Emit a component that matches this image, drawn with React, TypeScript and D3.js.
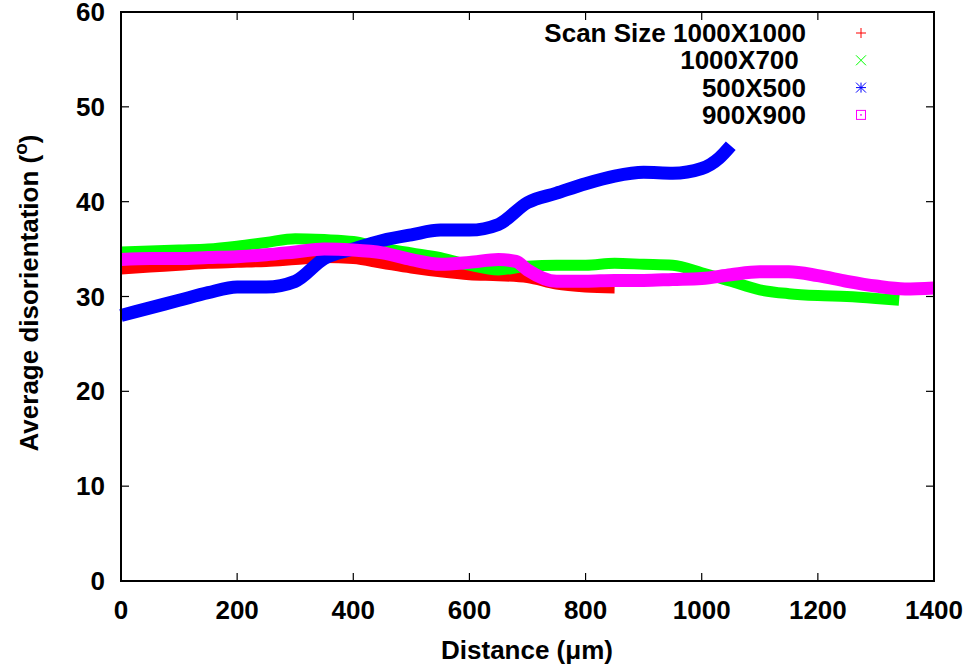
import React from 'react';
import * as d3 from 'd3';

// distance (um) and average disorientation (deg)
const redX = [0, 50, 100, 150, 200, 250, 300, 350, 400, 450, 500, 550, 600, 650, 700, 750, 800, 850];
const redY = [32.9, 33.1, 33.3, 33.5, 33.6, 33.7, 33.9, 34.1, 34.0, 33.5, 33.0, 32.6, 32.3, 32.2, 32.0, 31.3, 31.0, 30.9];

const greenX = [0, 50, 100, 150, 200, 250, 300, 350, 400, 450, 500, 550, 600, 650, 700, 750, 800, 850, 900, 950, 1000, 1050, 1100, 1150, 1200, 1250, 1300, 1340];
const greenY = [34.7, 34.8, 34.9, 35.0, 35.3, 35.7, 36.1, 36.0, 35.8, 35.1, 34.6, 34.1, 33.3, 32.8, 33.2, 33.3, 33.3, 33.5, 33.4, 33.3, 32.5, 31.6, 30.7, 30.3, 30.1, 30.0, 29.8, 29.6];

const blueX = [0, 50, 100, 150, 200, 250, 300, 350, 400, 450, 500, 550, 600, 650, 700, 750, 800, 850, 900, 950, 1000, 1030, 1050];
const blueY = [28.0, 28.8, 29.6, 30.4, 31.0, 31.0, 31.6, 34.0, 35.0, 35.9, 36.5, 37.0, 37.0, 37.6, 39.9, 40.9, 41.9, 42.7, 43.1, 43.0, 43.5, 44.6, 45.9];

const magentaX = [0, 50, 100, 150, 200, 250, 300, 350, 400, 450, 500, 550, 600, 650, 680, 700, 750, 800, 850, 900, 950, 1000, 1050, 1100, 1150, 1200, 1250, 1300, 1350, 1400];
const magentaY = [33.9, 34.0, 34.0, 34.1, 34.2, 34.4, 34.7, 35.0, 34.9, 34.6, 33.9, 33.4, 33.6, 33.9, 33.7, 32.8, 31.6, 31.6, 31.7, 31.7, 31.8, 31.9, 32.3, 32.6, 32.6, 32.2, 31.6, 31.1, 30.8, 30.9];

const seriesNames = ['Scan Size 1000X1000', '1000X700 ', '500X500', '900X900'];
const xTicks = [0, 200, 400, 600, 800, 1000, 1200, 1400];
const yTicks = [0, 10, 20, 30, 40, 50, 60];

const FONT = '"Liberation Sans", Arial, Helvetica, sans-serif';

export default function App() {
  // plot frame
  const left = 121, right = 934, top = 12, bottom = 581;

  const x = d3.scaleLinear().domain([0, 1400]).range([left, right]);
  const y = d3.scaleLinear().domain([0, 60]).range([bottom, top]);

  const series = [
    { xs: redX, ys: redY, color: '#ff0000', width: 11 },
    { xs: greenX, ys: greenY, color: '#00ff00', width: 11 },
    { xs: blueX, ys: blueY, color: '#0000ff', width: 13 },
    { xs: magentaX, ys: magentaY, color: '#ff00ff', width: 13 },
  ];

  const line = d3.line<[number, number]>()
    .x(d => x(d[0]))
    .y(d => y(d[1]))
    .curve(d3.curveMonotoneX);

  const legendTextX = 806;
  const legendMarkX = 861;
  const legendRowY = (i: number) => 33 + i * 27.3;

  // small legend glyphs, gnuplot style
  const marker = (i: number, cx: number, cy: number) => {
    const s = 5;
    if (i === 0) {
      return <path d={`M${cx - s},${cy}H${cx + s}M${cx},${cy - s}V${cy + s}`} stroke="#ff0000" strokeWidth={1} />;
    }
    if (i === 1) {
      return <path d={`M${cx - s},${cy - s}L${cx + s},${cy + s}M${cx - s},${cy + s}L${cx + s},${cy - s}`} stroke="#00ff00" strokeWidth={1} />;
    }
    if (i === 2) {
      return <path d={`M${cx - s},${cy}H${cx + s}M${cx},${cy - s}V${cy + s}M${cx - s},${cy - s}L${cx + s},${cy + s}M${cx - s},${cy + s}L${cx + s},${cy - s}`} stroke="#0000ff" strokeWidth={1} />;
    }
    return (
      <g>
        <rect x={cx - 4.5} y={cy - 4.5} width={9} height={9} fill="none" stroke="#ff00ff" strokeWidth={1} />
        <rect x={cx - 0.8} y={cy - 0.8} width={1.6} height={1.6} fill="#ff00ff" />
      </g>
    );
  };

  return (
    <svg width={969} height={670} style={{ position: 'absolute', left: 0, top: 0, background: '#fff' }}
      fontFamily={FONT} fontWeight="bold">
      <rect x={0} y={0} width={969} height={670} fill="#fff" />

      {/* data */}
      {series.map((s, i) => (
        <path key={i} d={line(s.xs.map((v, j) => [v, s.ys[j]] as [number, number])) || ''}
          fill="none" stroke={s.color} strokeWidth={s.width} strokeLinejoin="round" />
      ))}

      {/* ticks, mirrored inward on all sides */}
      {xTicks.map(t => (
        <g key={'xt' + t}>
          <line x1={x(t)} x2={x(t)} y1={bottom} y2={bottom - 8} stroke="#000" strokeWidth={1.2} />
          <line x1={x(t)} x2={x(t)} y1={top} y2={top + 8} stroke="#000" strokeWidth={1.2} />
          <text x={x(t)} y={619} textAnchor="middle" fontSize={26}>{t}</text>
        </g>
      ))}
      {yTicks.map(t => (
        <g key={'yt' + t}>
          <line x1={left} x2={left + 8} y1={y(t)} y2={y(t)} stroke="#000" strokeWidth={1.2} />
          <line x1={right} x2={right - 8} y1={y(t)} y2={y(t)} stroke="#000" strokeWidth={1.2} />
          <text x={105} y={y(t) + 9} textAnchor="end" fontSize={26}>{t}</text>
        </g>
      ))}

      {/* frame */}
      <rect x={left} y={top} width={right - left} height={bottom - top} fill="none" stroke="#000" strokeWidth={2} />

      {/* axis titles */}
      <text x={527} y={659} textAnchor="middle" fontSize={26}>Distance (<tspan>&#956;</tspan>m)</text>
      <text transform="translate(38,293) rotate(-90)" textAnchor="middle" fontSize={26}>
        Average disorientation (<tspan fontSize={19} dy={-11}>o</tspan><tspan dy={11}>)</tspan>
      </text>

      {/* legend */}
      {seriesNames.map((name, i) => (
        <g key={'lg' + i}>
          <text x={legendTextX} y={legendRowY(i) + 9} textAnchor="end" fontSize={26} style={{ whiteSpace: 'pre' }}>{name}</text>
          {marker(i, legendMarkX, legendRowY(i))}
        </g>
      ))}
    </svg>
  );
}
